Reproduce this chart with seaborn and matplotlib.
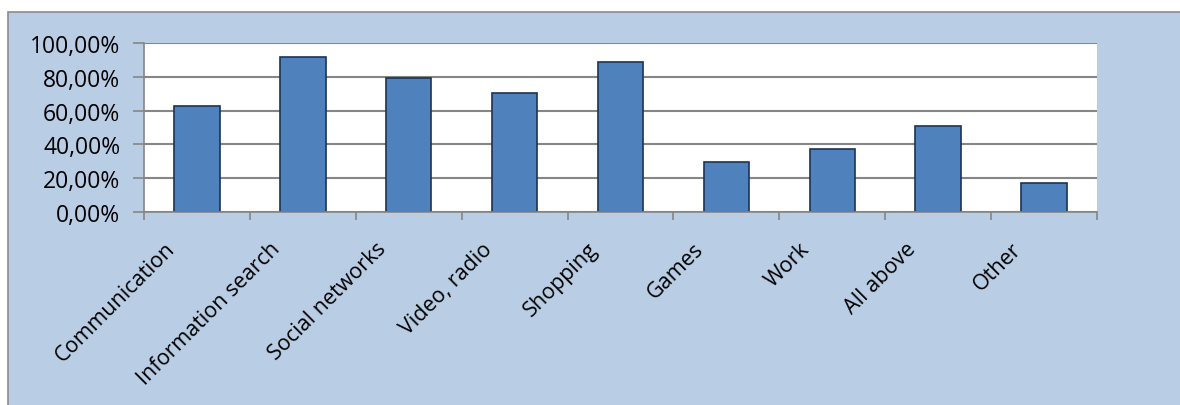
import matplotlib
matplotlib.use("Agg")
import matplotlib.pyplot as plt
import matplotlib.patches as mpatches
import matplotlib.transforms as mtransforms
from matplotlib.ticker import FuncFormatter, FixedLocator
import seaborn as sns
import pandas as pd
import numpy as np

# Data
categories = ["Communication", "Information search", "Social networks", "Video, radio",
              "Shopping", "Games", "Work", "All above", "Other"]
shares = [0.63, 0.915, 0.79, 0.705, 0.885, 0.295, 0.37, 0.51, 0.17]
y_ticks = [0, 0.2, 0.4, 0.6, 0.8, 1.0]

df = pd.DataFrame({"category": categories, "share": shares})

sns.set_style("white")
plt.rcParams["font.family"] = ["Open Sans", "DejaVu Sans"]

bg = "#b9cde5"
grid_col = "#868686"

fig = plt.figure(figsize=(11.8, 4.06), dpi=100, facecolor="white")
# chart area background with grey border (clipped at right/bottom like the source)
fig.patches.append(mpatches.Rectangle((8 / 1180, -0.05), 1.1, 1 - 13 / 406 + 0.05,
                                      transform=fig.transFigure, facecolor=bg,
                                      edgecolor="#8c8c8c", linewidth=1.2, zorder=-10))

ax = fig.add_axes([144 / 1180, 1 - 213 / 406, (1097 - 144) / 1180, (213 - 44) / 406])
ax.set_facecolor("white")

sns.barplot(data=df, x="category", y="share", ax=ax, color="#4f81bd",
            width=0.43, edgecolor="#1b3355", linewidth=1.2, saturation=1, zorder=3)

ax.set_xlim(-0.5, len(categories) - 0.5)
ax.set_ylim(0, 1)
ax.set_yticks(y_ticks)
ax.yaxis.set_major_formatter(FuncFormatter(lambda v, p: f"{v * 100:.2f}%".replace(".", ",")))
ax.grid(axis="y", color=grid_col, linewidth=1.5, zorder=0)
ax.set_axisbelow(True)

for s in ["top", "right"]:
    ax.spines[s].set_visible(False)
for s in ["left", "bottom"]:
    ax.spines[s].set_color(grid_col)
    ax.spines[s].set_linewidth(1.2)
    ax.spines[s].set_zorder(4)

ax.tick_params(axis="y", length=8, width=1.2, color=grid_col, labelsize=16.5, pad=9,
               left=True, labelcolor="black")
ax.tick_params(axis="x", which="major", length=0, labelsize=15.5, pad=8, labelcolor="black")
ax.xaxis.set_minor_locator(FixedLocator(np.arange(-0.5, len(categories), 1.0)))
ax.tick_params(axis="x", which="minor", length=6, width=1.2, color=grid_col, bottom=True)

ax.set_xticks(range(len(categories)))
ax.set_xticklabels(categories, rotation=45, ha="right", rotation_mode="anchor")
shift = mtransforms.ScaledTranslation(-33 / 100, -15 / 100, fig.dpi_scale_trans)
for lab in ax.get_xticklabels():
    lab.set_transform(lab.get_transform() + shift)
ax.set_xlabel("")
ax.set_ylabel("")

fig.savefig("out.png", dpi=100, facecolor=fig.get_facecolor())
